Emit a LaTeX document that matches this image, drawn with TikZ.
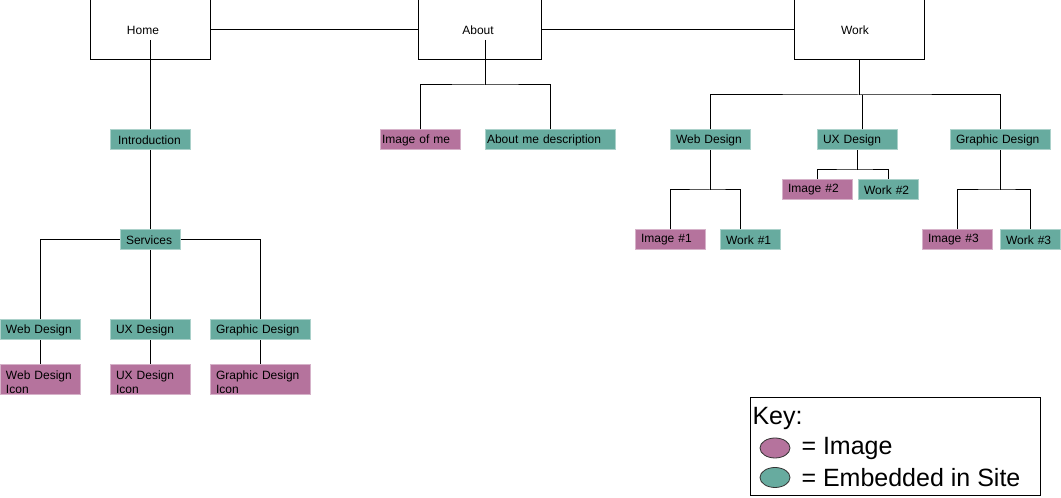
\documentclass[tikz,border=0pt]{standalone}
\usepackage{fontspec}
\setmainfont{Liberation Sans}
\usetikzlibrary{shapes.geometric}
\definecolor{tealc}{HTML}{67AB9F}
\definecolor{pinkc}{HTML}{B5739D}
\newcommand{\raiseline}{\rule{0pt}{9.9pt}}
\begin{document}
\begin{tikzpicture}[x=0.75pt,y=-0.75pt,line width=0.75pt,
  topbox/.style={draw=black,minimum height=45pt,inner sep=0pt,font=\fontsize{9}{11}\selectfont},
  cbox/.style={fill=#1,draw=#1!55!white,line width=0.75pt,minimum height=15pt,inner ysep=0pt,align=left,font=\fontsize{9}{10.5}\selectfont},
  tbox/.style={cbox=tealc},
  pbox/.style={cbox=pinkc},
  bw/.style 2 args={text width=#1pt,inner xsep=#2pt},
  keytxt/.style={anchor=west,inner sep=0pt,font=\fontsize{18.75}{22}\selectfont},
  keyell/.style={ellipse,draw=black!80,line width=0.6pt,fill=#1,minimum width=22.5pt,minimum height=15pt,inner sep=0pt}]
\useasboundingbox (0,0) rectangle (1061,498);

% top level
\node[topbox,minimum width=90pt] (home) at (150,30) {\hspace{-10.5pt}Home};
\node[topbox,minimum width=92.25pt] (about) at (480,30) {\hspace{-3pt}About};
\node[topbox,minimum width=97.5pt] (work) at (859,30) {\hspace{-6pt}Work};

% Home branch
\node[tbox,bw={48}{6}] (intro) at (150,140) {Introduction};
\node[tbox,bw={36}{4.5}] (serv) at (150,240) {Services};
\node[tbox,bw={51}{4.5}] (wd1) at (40,330) {Web Design};
\node[tbox,bw={51}{4.5}] (ux1) at (150,330) {UX Design};
\node[tbox,bw={66}{4.5}] (gd1) at (260,330) {Graphic Design};
\node[pbox,bw={51}{4.5},minimum height=22.5pt] (wdi) at (40,380) {\raiseline Web Design\\Icon};
\node[pbox,bw={51}{4.5},minimum height=22.5pt] (uxi) at (150,380) {\raiseline UX Design\\Icon};
\node[pbox,bw={66}{4.5},minimum height=22.5pt] (gdi) at (260,380) {\raiseline Graphic Design\\Icon};

% About branch
\node[pbox,bw={57}{1.5}] (imgme) at (420,140) {Image of me};
\node[tbox,bw={94.5}{1.5}] (adesc) at (550,140) {About me description};

% Work branch
\node[tbox,bw={51}{4.5}] (wd2) at (710,140) {Web Design};
\node[tbox,bw={51}{4.5}] (ux2) at (857,140) {UX Design};
\node[tbox,bw={66}{4.5}] (gd2) at (1000,140) {Graphic Design};
\node[pbox,bw={43.5}{4.5}] (i1) at (670,240) {Image \#1};
\node[tbox,bw={36}{4.5}] (w1) at (750,240) {Work \#1};
\node[pbox,bw={43.5}{4.5}] (i2) at (817,190) {Image \#2};
\node[tbox,bw={36}{4.5}] (w2) at (888,190) {Work \#2};
\node[pbox,bw={43.5}{4.5}] (i3) at (957,240) {Image \#3};
\node[tbox,bw={36}{4.5}] (w3) at (1030,240) {Work \#3};

% junction points
\coordinate (ja) at (485,85);
\coordinate (jw) at (859,95);
\coordinate (j1) at (710,190);
\coordinate (j2) at (857,170);
\coordinate (j3) at (1000,190);

% connectors
\draw (home.east) -- (about.west);
\draw (about.east) -- (work.west);
\draw ([yshift=-7.5pt]home.center) -- (intro.north);
\draw (intro.south) -- (serv.north);
\draw (serv.west) -| (wd1.north);
\draw (serv.south) -- (ux1.north);
\draw (serv.east) -| (gd1.north);
\draw (wd1.south) -- (wdi.north);
\draw (ux1.south) -- (uxi.north);
\draw (gd1.south) -- (gdi.north);

\draw ([xshift=3.75pt,yshift=-7.5pt]about.center) -- (ja);
\draw (imgme.north) |- (ja) -| (adesc.north);

\draw (work.south) -- (jw);
\draw (wd2.north) |- (jw) -| (gd2.north);
\draw ([xshift=3.75pt]ux2.north) -- ([xshift=3.75pt]ux2.north |- jw);
\draw (wd2.south) -- (j1);
\draw (i1.north) |- (j1) -| ([xshift=-7.5pt]w1.north);
\draw (ux2.south) -- (j2);
\draw (i2.north) |- (j2) -| (w2.north);
\draw (gd2.south) -- (j3);
\draw (i3.north) |- (j3) -| (w3.north);

% key
\node[draw=black,minimum width=217.5pt,minimum height=73.5pt,inner sep=0pt] (key) at (895,446.5) {};
\node[keytxt] (keyl) at (752,418) {Key:};
\node[keyell=pinkc] (e1) at (775,448) {};
\node[keyell=tealc] (e2) at (775,477.5) {};
\node[keytxt] (k1) at (801,448) {= Image};
\node[keytxt] (k2) at (801,477.5) {= Embedded in Site};
\end{tikzpicture}
\end{document}
